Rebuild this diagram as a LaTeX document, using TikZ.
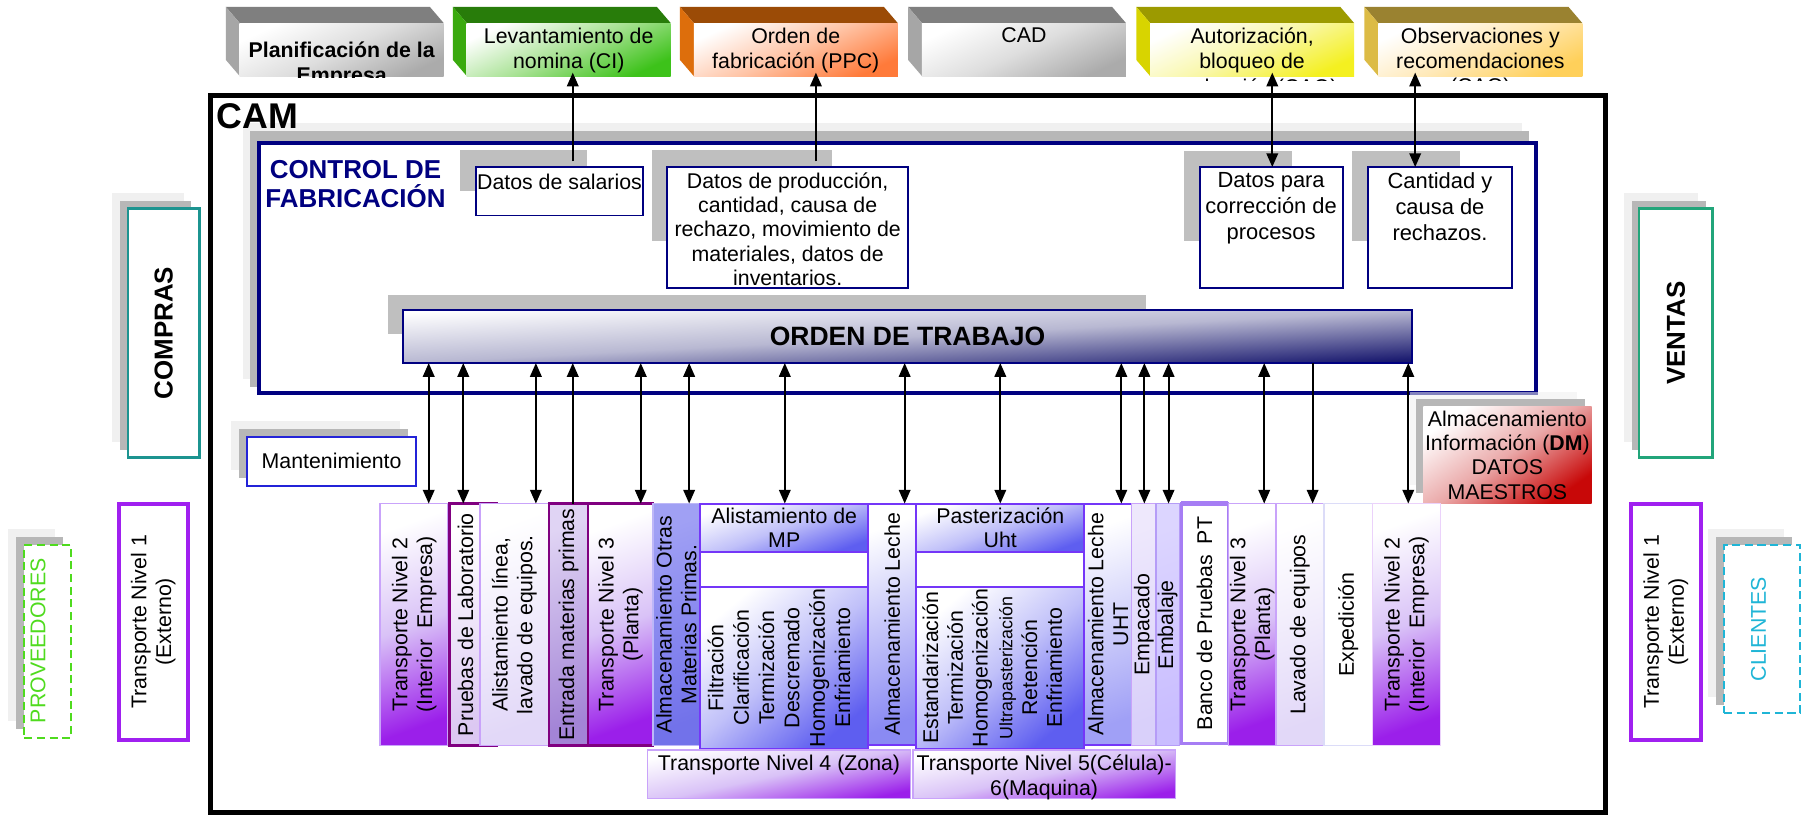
\documentclass[tikz,border=0pt]{standalone}
\usepackage{fontspec}
\setmainfont{Liberation Sans}
\usetikzlibrary{arrows.meta,calc}
\newcommand{\fsz}[2]{\fontsize{#1}{#2}\selectfont}

% frame and shadow colours
\definecolor{navyf}{HTML}{000080}
\definecolor{shlight}{HTML}{F0F0F0}
\definecolor{shdark}{HTML}{B7B7B7}
\definecolor{datsh}{HTML}{BFBFBF}
% top blocks
\definecolor{topgray}{HTML}{7F7F7F}\definecolor{sidegray}{HTML}{A6A6A6}
\definecolor{frgray}{HTML}{ABABAB}\definecolor{midgray}{HTML}{DEDEDE}
\definecolor{topgreen}{HTML}{287C0A}\definecolor{sidegreen}{HTML}{3AAA0E}
\definecolor{frgreen}{HTML}{3DC21A}\definecolor{midgreen}{HTML}{A8E294}
\definecolor{toporange}{HTML}{9B4B06}\definecolor{sideorange}{HTML}{DD6E0C}
\definecolor{frorange}{HTML}{FF7A3A}\definecolor{midorange}{HTML}{FFC4A6}
\definecolor{topyel}{HTML}{9C9A00}\definecolor{sideyel}{HTML}{D8D400}
\definecolor{fryel}{HTML}{F4F020}\definecolor{midyel}{HTML}{F9F7A8}
\definecolor{topgold}{HTML}{9A8230}\definecolor{sidegold}{HTML}{DCBB45}
\definecolor{frgold}{HTML}{FFD05A}\definecolor{midgold}{HTML}{FFE9B8}
% work order bar and master data
\definecolor{otbnavy}{HTML}{18186E}\definecolor{otbmid}{HTML}{B8B8D2}
\definecolor{dmred}{HTML}{C80808}\definecolor{dmmid}{HTML}{EAA8A8}
% side boxes
\definecolor{teala}{HTML}{1C9490}\definecolor{tealb}{HTML}{22A57A}
\definecolor{tpur}{HTML}{A020F0}\definecolor{provg}{HTML}{4FDB1E}
\definecolor{clic}{HTML}{1FB5D6}\definecolor{mantb}{HTML}{2323D8}
% process row
\definecolor{purp}{HTML}{9B1FEA}\definecolor{midpur}{HTML}{D9C2F7}
\definecolor{lpur}{HTML}{C9A3FA}\definecolor{dmag}{HTML}{800080}
\definecolor{viol}{HTML}{7436F8}\definecolor{bluev}{HTML}{5E5EF0}
\definecolor{midblue}{HTML}{C0C0F9}
\definecolor{prubot}{HTML}{DCC8F2}\definecolor{alibot}{HTML}{E2D8F8}
\definecolor{entrtop}{HTML}{E0D4F4}\definecolor{entrbot}{HTML}{A384D6}
\definecolor{aomptop}{HTML}{A0A0F4}\definecolor{aompbot}{HTML}{7272EA}
\definecolor{aompb}{HTML}{BDB7F8}
\definecolor{lechebot}{HTML}{8A8AF3}\definecolor{uhtbot}{HTML}{A0A0F6}
\definecolor{empt}{HTML}{EEE8FC}\definecolor{empb}{HTML}{D9D0FA}
\definecolor{embt}{HTML}{DCD5FF}\definecolor{embb}{HTML}{C9BDFF}
\definecolor{embd}{HTML}{B59CF7}\definecolor{bancob}{HTML}{A67DF4}
\definecolor{expb}{HTML}{DCDCF8}

% a named rectangle given by its corners: name, x1, y1, x2, y2, style
\newcommand{\rbox}[6]{\node[box,minimum width={((#4)-(#2))*1pt},minimum height={((#5)-(#3))*1pt},#6] (#1) at (#2,#3) {};}

% an extruded heading block: name, left x, top colour, side colour, front colours
\newcommand{\topblock}[6]{%
  \fill[#3] (#2,6) -- ++(177,0) -- ++(12,14) -- ++(-177,0) -- cycle;
  \fill[#4] (#2,6) -- ++(12,14) -- ++(0,46) -- ++(-12,-14) -- cycle;
  \rbox{#1}{#2+12}{20}{#2+189}{66}{top color=white,bottom color=#5,middle color=#6,shading angle=25}}

% caption of a heading block, cut off below the block: name, shift, cut depth, style, text
\newcommand{\blocktext}[5]{%
  \begin{scope}
    \clip (#1.north west) rectangle ([yshift=-#3pt]#1.south east);
    \node[txt,anchor=north,yshift=-#2pt,#4] (#1t) at (#1.north) {#5};
  \end{scope}}

\begin{document}
\begin{tikzpicture}[x=1pt,y=-1pt,>={Triangle[length=12pt,width=10pt]},
  every node/.style={inner sep=0pt,outer sep=0pt},
  box/.style={anchor=north west},
  txt/.style={align=center,font=\fsz{18.5}{22}},
  vtxt/.style={rotate=90,align=center,font=\fsz{18.5}{21.5}},
  ar/.style={line width=1.8pt},
  gpur/.style={top color=white,bottom color=purp,middle color=midpur,shading angle=20},
  gblue/.style={top color=white,bottom color=bluev,middle color=midblue,shading angle=30},
  lp/.style={draw=lpur,line width=1.4pt},
  dmg/.style={draw=dmag,line width=2pt},
  vi/.style={draw=viol,line width=1.8pt},
  datbox/.style={draw=navyf,line width=1.6pt,fill=white},
]
\useasboundingbox (0,0) rectangle (1568,708);
\fill[white] (0,0) rectangle (1568,708);

% ---------- heading blocks ----------
\topblock{planif}{196}{topgray}{sidegray}{frgray}{midgray}
\topblock{levan}{393}{topgreen}{sidegreen}{frgreen}{midgreen}
\topblock{ordf}{590}{toporange}{sideorange}{frorange}{midorange}
\topblock{cad}{788}{topgray}{sidegray}{frgray}{midgray}
\topblock{autor}{986}{topyel}{sideyel}{fryel}{midyel}
\topblock{obser}{1184}{topgold}{sidegold}{frgold}{midgold}
\blocktext{planif}{16}{1}{font=\fsz{18.5}{22}\bfseries}{Planificación de la\\Empresa}
\blocktext{levan}{4}{4}{}{Levantamiento de\\nomina (CI)}
\blocktext{ordf}{4}{4}{}{Orden de\\fabricación (PPC)}
\blocktext{cad}{4}{4}{}{CAD}
\blocktext{autor}{4}{4}{}{Autorización,\\bloqueo de\\producción (CAQ)}
\blocktext{obser}{4}{4}{}{Observaciones y\\recomendaciones\\(CAQ)}

% ---------- CAM frame ----------
\rbox{cam}{183}{83}{1393}{705}{draw=black,line width=4.5pt}

% ---------- manufacturing control ----------
\fill[shlight] (211,107) rectangle (1321,329);
\fill[shdark] (217,114) rectangle (1327,336);
\rbox{ctrl}{225}{124}{1333}{341}{draw=navyf,line width=3.5pt,fill=white}
\node[anchor=west,font=\fsz{31}{33}\bfseries] (camt) at (188,100.5) {CAM};
\node[align=center,font=\fsz{22.5}{25}\bfseries,text=navyf] (ctrlt) at (308.5,159.5) {CONTROL DE\\FABRICACIÓN};

\fill[datsh] (399,130) rectangle (509,166);
\rbox{dsal}{413}{145}{558}{187}{datbox}
\node[txt,anchor=north] (dsalt) at ([yshift=-6pt]dsal.north) {Datos de salarios};

\fill[datsh] (566,130) rectangle (722,209);
\rbox{dprod}{579}{145}{788}{250}{datbox}
\node[txt,anchor=north,font=\fsz{18.5}{21}] (dprodt) at ([yshift=-5pt]dprod.north) {Datos de producción,\\cantidad, causa de\\rechazo, movimiento de\\materiales, datos de\\inventarios.};

\fill[datsh] (1027,131) rectangle (1121,209);
\rbox{dcorr}{1041}{145}{1165}{250}{datbox}
\node[txt,anchor=north,font=\fsz{19}{22.5}] (dcorrt) at ([yshift=-5pt]dcorr.north) {Datos para\\corrección de\\procesos};

\fill[datsh] (1173,131) rectangle (1267,209);
\rbox{dcant}{1187}{145}{1312}{250}{datbox}
\node[txt,anchor=north,font=\fsz{19}{22.5}] (dcantt) at ([yshift=-5pt]dcant.north) {Cantidad y\\causa de\\rechazos.};

% work order bar
\fill[datsh] (337,256) rectangle (994,290);
\rbox{otb}{350}{269}{1225}{315}{draw=navyf,line width=1.6pt,top color=white,bottom color=otbnavy,middle color=otbmid,shading angle=3}
\node[font=\fsz{23}{25}\bfseries] (otbt) at (otb.center) {ORDEN DE TRABAJO};

% ---------- purchasing / sales ----------
\fill[shlight] (97.5,167.5) rectangle (159.5,383.5);
\fill[shdark] (104,174) rectangle (166,390.5);
\rbox{compras}{111}{181}{173}{397}{draw=teala,line width=2pt,fill=white}
\node[rotate=90,font=\fsz{22.5}{25}\bfseries] (comprast) at (compras.center) {COMPRAS};

\fill[shlight] (1409,167.5) rectangle (1473,383.5);
\fill[shdark] (1416,174) rectangle (1480,390.5);
\rbox{ventas}{1422.5}{181}{1486}{397}{draw=tealb,line width=2pt,fill=white}
\node[rotate=90,font=\fsz{22.5}{25}\bfseries] (ventast) at (ventas.center) {VENTAS};

% suppliers and customers
\fill[shlight] (7,459) rectangle (48,626);
\fill[shdark] (14,466) rectangle (55,633);
\rbox{prov}{21}{473}{62}{640}{draw=provg,line width=1.8pt,dash pattern=on 7pt off 4pt,fill=white}
\node[rotate=90,font=\fsz{18.5}{21},text=provg] (provt) at (33,556) {PROVEEDORES};

\fill[shlight] (1482,459) rectangle (1548,605);
\fill[shdark] (1489,466) rectangle (1555,612);
\rbox{cli}{1496}{473}{1562}{619}{draw=clic,line width=1.8pt,dash pattern=on 7pt off 4pt,fill=white}
\node[rotate=90,font=\fsz{18.5}{21},text=clic] (clit) at (1526,546) {CLIENTES};

\rbox{tn1l}{103}{437}{163}{642}{draw=tpur,line width=3.5pt,fill=white}
\node[vtxt] (tn1lt) at (tn1l.center) {Transporte Nivel 1\\(Externo)};
\rbox{tn1r}{1415}{437}{1476}{642}{draw=tpur,line width=3.5pt,fill=white}
\node[vtxt] (tn1rt) at (tn1r.center) {Transporte Nivel 1\\(Externo)};

% maintenance
\fill[shlight] (200.5,365) rectangle (347,408);
\fill[shdark] (207.5,372) rectangle (354,415);
\rbox{mant}{214.5}{379}{361}{421.5}{draw=mantb,line width=2pt,fill=white}
\node[txt] (mantt) at (mant.center) {Mantenimiento};

% master data store
\fill[shlight,fill opacity=0.55] (1223.5,340) rectangle (1368,421);
\fill[shdark] (1229,346) rectangle (1375,428);
\rbox{dmbox}{1235}{353}{1381}{437}{top color=white,bottom color=dmred,middle color=dmmid,shading angle=35}
\node[align=center,font=\fsz{18.5}{21}] (dmt) at (dmbox.center) {Almacenamiento\\Información (\textbf{DM})\\DATOS\\MAESTROS};

% ---------- process row ----------
\rbox{tn2l}{330}{437}{389}{647}{lp,gpur}
\rbox{prueb}{390}{437}{431}{647}{draw=dmag,line width=2.4pt,top color=white,bottom color=prubot,shading angle=20}
\rbox{alist}{416.5}{437}{476}{647}{lp,top color=white,bottom color=alibot,shading angle=20}
\rbox{entr}{476.5}{437}{510.5}{647}{dmg,top color=entrtop,bottom color=entrbot,shading angle=20}
\rbox{tn3l}{510.5}{437}{566.5}{647}{dmg,gpur}
\rbox{aomp}{566.5}{437}{607.5}{647}{draw=aompb,line width=1.2pt,top color=aomptop,bottom color=aompbot,shading angle=20}
\rbox{amp}{607.5}{437}{753.5}{650}{vi,fill=white}
\rbox{amptit}{607.5}{437}{753.5}{479}{vi,gblue,shading angle=20}
\rbox{amplist}{607.5}{509}{753.5}{650}{vi,gblue,shading angle=40}
\rbox{aleche}{753.5}{437}{795}{646.5}{vi,top color=white,bottom color=lechebot,shading angle=20}
\rbox{past}{795}{437}{941}{650}{vi,fill=white}
\rbox{pasttit}{795}{437}{941}{479}{vi,gblue,shading angle=20}
\rbox{pastlist}{795}{509}{941}{650}{vi,gblue,shading angle=40}
\rbox{aluht}{941}{437}{982}{646.5}{vi,top color=white,bottom color=uhtbot,shading angle=20}
\rbox{empac}{982}{437}{1003}{647}{draw=lpur,line width=1.2pt,top color=empt,bottom color=empb,shading angle=20}
\rbox{embal}{1003}{437}{1023.5}{647}{draw=embd,line width=1.2pt,top color=embt,bottom color=embb,shading angle=20}
\rbox{banco}{1025}{437}{1065.5}{645}{draw=bancob,line width=2.4pt,fill=white}
\draw[bancob,line width=4pt] (banco.north west) -- (banco.north east);
\rbox{tn3r}{1066}{437}{1107}{647}{lp,gpur}
\rbox{lavado}{1107}{437}{1149}{647}{lp,top color=white,bottom color=alibot,shading angle=20}
\rbox{exped}{1149}{437}{1191}{647}{draw=expb,line width=1.2pt,fill=white}
\rbox{tn2r}{1191}{437}{1250}{647}{draw=white!80!purp,line width=0.8pt,gpur}
\rbox{tn4}{562}{651}{790}{693}{lp,gpur,shading angle=12}
\rbox{tn5}{792}{651}{1020}{693}{lp,gpur,shading angle=12}

\node[vtxt] (tn2lt) at (tn2l.center) {Transporte Nivel 2\\(Interior\enspace Empresa)};
\node[vtxt] (pruebt) at (404,542) {Pruebas de Laboratorio};
\node[vtxt] (alistt) at (alist.center) {Alistamiento línea,\\lavado de equipos.};
\node[vtxt] (entrt) at (entr.center) {Entrada materias primas};
\node[vtxt] (tn3lt) at (tn3l.center) {Transporte Nivel 3\\(Planta)};
\node[vtxt] (aompt) at (aomp.center) {Almacenamiento Otras\\Materias Primas.};
\node[txt,font=\fsz{18.5}{21}] (amptitt) at (amptit.center) {Alistamiento de\\MP};
\node[vtxt,font=\fsz{18.5}{22}] (amplistt) at (676,579.5) {Filtración\\Clarificación\\Termización\\Descremado\\Homogenización\\Enfriamiento};
\node[vtxt] (alechet) at (aleche.center) {Almacenamiento Leche};
\node[txt,font=\fsz{18.5}{21}] (pasttitt) at (pasttit.center) {Pasterización\\Uht};
\node[vtxt,font=\fsz{18.5}{21.5}] (pastlistt) at (861,579.5) {Estandarización\\Termización\\Homogenización\\{\fsz{15.5}{20}Ultrapasterización}\\Retención\\Enfriamiento};
\node[vtxt] (aluhtt) at (aluht.center) {Almacenamiento Leche\\UHT};
\node[vtxt] (empact) at (empac.center) {Empacado};
\node[vtxt] (embalt) at (embal.center) {Embalaje};
\node[vtxt] (bancot) at (banco.center) {Banco de Pruebas\enspace PT};
\node[vtxt] (tn3rt) at (tn3r.center) {Transporte Nivel 3\\(Planta)};
\node[vtxt] (lavadot) at (lavado.center) {Lavado de equipos};
\node[vtxt] (expedt) at (exped.center) {Expedición};
\node[vtxt] (tn2rt) at (tn2r.center) {Transporte Nivel 2\\(Interior\enspace Empresa)};
\node[txt,anchor=north] (tn4t) at ([yshift=-4pt]tn4.north) {Transporte Nivel 4 (Zona)};
\node[txt,anchor=north] (tn5t) at ([yshift=-4pt]tn5.north) {Transporte Nivel 5(Célula)-\\6(Maquina)};

% ---------- connectors ----------
\draw[ar,->] ($(dsal.north -| 497,0)+(0,-5)$) -- ($(levan.south -| 497,0)+(0,-3)$);
\draw[ar,->] ($(dprod.north -| 708,0)+(0,-5)$) -- ($(ordf.south -| 708,0)+(0,-3)$);
\draw[ar,<->] ($(autor.south -| 1104,0)+(0,-3)$) -- (dcorr.north -| 1104,0);
\draw[ar,<->] ($(obser.south -| 1228,0)+(0,-3)$) -- (dcant.north -| 1228,0);

\foreach \xx/\nn in {372/tn2l,402/prueb,465/alist,556/tn3l,598/aomp,681/amptit,785/aleche,868/pasttit,973/aluht,993/empac,1014/embal,1097/tn3r,1222/tn2r}
  \draw[ar,<->] (otb.south -| \xx,0) -- (\nn.north -| \xx,0);
\draw[ar,<-] (otb.south -| 497,0) -- (entr.north -| 497,0);
\draw[ar,->] (otb.south -| 1139,0) -- (lavado.north -| 1139,0);
\end{tikzpicture}
\end{document}
